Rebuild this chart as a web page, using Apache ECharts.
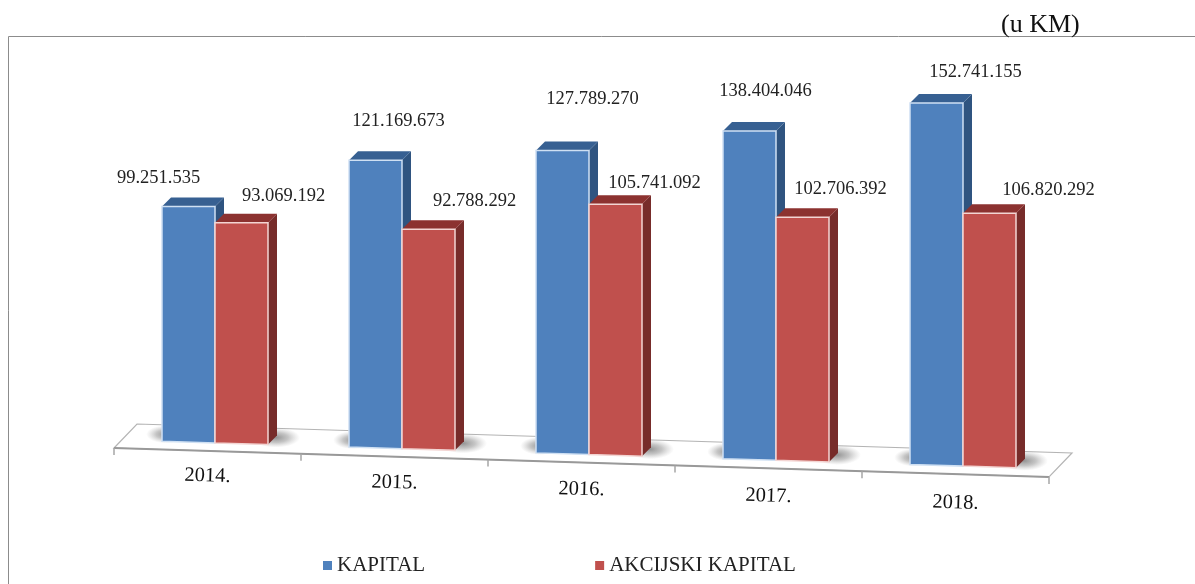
<!DOCTYPE html>
<html>
<head>
<meta charset="utf-8">
<title>Kapital</title>
<style>
  html, body { margin: 0; padding: 0; background: #fff; }
  #chart { width: 1195px; height: 584px; }
</style>
<script src="https://cdn.jsdelivr.net/npm/echarts@6/dist/echarts.min.js"></script>
</head>
<body>
<div id="chart"></div>
<script>
const categories = ['2014.', '2015.', '2016.', '2017.', '2018.'];
const kapital = [99251535, 121169673, 127789270, 138404046, 152741155];
const akcijskiKapital = [93069192, 92788292, 105741092, 102706392, 106820292];

// hand placed labels in the original, offset from top centre of the bar
const kapitalLabelOffset = [[-30, -28], [23, -39], [30, -51], [16, -40], [39, -31]];
const akcijskiLabelOffset = [[42, -27], [46, -28], [39, -21], [38, -28], [59, -23]];

const FONT = '"Liberation Serif", serif';
const SLOPE = 0.031; // floor runs down to the right
const GRID_LEFT = 114;
const DEPTH = 9; // bar top and side
const FLOOR_SHIFT = [7.5, -8.2]; // bars stand a bit behind the front edge
const BAR_WIDTH = 53;

const tilt = x => SLOPE * (x - GRID_LEFT);
const formatValue = v => String(v).replace(/\B(?=(\d{3})+$)/g, '.');

/* floor plate with ticks */
function renderFloor(params, api) {
  const band = api.size([1, 0])[0];
  const zero = api.coord([0, 0]);
  const x0 = zero[0] - band / 2;
  const y0 = zero[1];
  const x1 = x0 + band * categories.length;
  const y1 = y0 + tilt(x1);
  const back = [23, -24];
  const lineStyle = { stroke: '#a6a6a6', lineWidth: 1.5, fill: null };
  const children = [
    {
      type: 'polygon',
      shape: { points: [[x0, y0], [x1, y1], [x1 + back[0], y1 + back[1]], [x0 + back[0], y0 + back[1]]] },
      style: { fill: '#fff', stroke: '#b4b4b4', lineWidth: 1.2 },
    },
    { type: 'line', shape: { x1: x0, y1: y0, x2: x1, y2: y1 }, style: { stroke: '#999', lineWidth: 2 } },
  ];
  for (let i = 0; i <= categories.length; i++) {
    const x = x0 + band * i;
    children.push({
      type: 'line',
      shape: { x1: x, y1: y0 + tilt(x), x2: x, y2: y0 + tilt(x) + 7 },
      style: lineStyle,
    });
  }
  return { type: 'group', children };
}

/* year labels follow the tilt of the floor, a little steeper */
function renderYear(params, api) {
  const i = api.value(0);
  const p = api.coord([i, 0]);
  return {
    type: 'text',
    x: p[0],
    y: p[1] + (p[0] - GRID_LEFT) * 0.036 + 24.6,
    rotation: -0.03,
    style: {
      text: categories[i],
      font: '20.5px ' + FONT,
      fill: '#111',
      align: 'center',
      verticalAlign: 'middle',
    },
  };
}

function shadowBlob(x, y, r, stretch) {
  return {
    type: 'circle',
    x: x,
    y: y,
    scaleX: stretch,
    shape: { cx: 0, cy: 0, r: r },
    style: {
      fill: {
        type: 'radial',
        x: 0.5,
        y: 0.5,
        r: 0.5,
        colorStops: [
          { offset: 0, color: 'rgba(120,120,120,0.8)' },
          { offset: 0.5, color: 'rgba(140,140,140,0.5)' },
          { offset: 1, color: 'rgba(170,170,170,0)' },
        ],
      },
    },
  };
}

/* soft shadow on the floor, left and right of the pair */
function renderShadow(params, api) {
  const i = api.value(0);
  const p = api.coord([i, 0]);
  const cx = p[0] + FLOOR_SHIFT[0];
  const yBase = p[1] + FLOOR_SHIFT[1];
  const l = cx - BAR_WIDTH;
  const r = cx + BAR_WIDTH;
  return {
    type: 'group',
    children: [
      shadowBlob(l + 4, yBase + tilt(l) - 7, 9, 2.2),
      shadowBlob(r + 8, yBase + tilt(r) - 7, 10, 2.4),
    ],
  };
}

function makeBar(side, front, topFace, sideFace, border, offsets) {
  return function (params, api) {
    const i = api.value(0);
    const val = api.value(1);
    const p = api.coord([i, 0]);
    const top = api.coord([i, val]);
    const cx = p[0] + FLOOR_SHIFT[0];
    const l = side < 0 ? cx - BAR_WIDTH : cx;
    const r = l + BAR_WIDTH;
    const yBase = p[1] + FLOOR_SHIFT[1];
    const baseL = yBase + tilt(l);
    const baseR = yBase + tilt(r);
    const yTop = top[1] + FLOOR_SHIFT[1] + tilt(l);
    const off = offsets[i];
    return {
      type: 'group',
      children: [
        {
          type: 'polygon',
          shape: { points: [[r, yTop], [r + DEPTH, yTop - DEPTH], [r + DEPTH, baseR - DEPTH], [r, baseR]] },
          style: { fill: sideFace },
        },
        {
          type: 'polygon',
          shape: { points: [[l, yTop], [r, yTop], [r + DEPTH, yTop - DEPTH], [l + DEPTH, yTop - DEPTH]] },
          style: { fill: topFace },
        },
        {
          type: 'polygon',
          shape: { points: [[l, yTop], [r, yTop], [r, baseR], [l, baseL]] },
          style: { fill: front, stroke: border, lineWidth: 1.5 },
        },
        {
          type: 'text',
          x: (l + r) / 2 + off[0],
          y: yTop + off[1],
          style: {
            text: formatValue(val),
            font: '18.5px ' + FONT,
            fill: '#222',
            align: 'center',
            verticalAlign: 'middle',
          },
        },
      ],
    };
  };
}

const chart = echarts.init(document.getElementById('chart'));
chart.setOption({
  animation: false,
  backgroundColor: '#fff',
  grid: { left: GRID_LEFT, width: 935, top: 22, bottom: 136 },
  xAxis: { type: 'category', data: categories, show: false },
  yAxis: { type: 'value', min: 0, max: 180000000, show: false },
  legend: {
    left: 318,
    top: 550,
    icon: 'rect',
    itemWidth: 9,
    itemHeight: 9,
    itemGap: 170,
    textStyle: { fontFamily: FONT, fontSize: 21, color: '#222' },
    data: ['KAPITAL', 'AKCIJSKI KAPITAL'],
  },
  graphic: [
    {
      type: 'polyline',
      shape: { points: [[8.5, 584], [8.5, 36.5], [1195, 36.5]] },
      style: { stroke: '#8c8c8c', lineWidth: 1, fill: null },
    },
    {
      type: 'text',
      x: 1001,
      y: 25,
      style: { text: '(u KM)', font: '26px ' + FONT, fill: '#111', verticalAlign: 'middle' },
    },
  ],
  series: [
    {
      type: 'custom',
      name: 'pod',
      renderItem: renderFloor,
      data: [[0, 0]],
      z: 1,
    },
    {
      type: 'custom',
      name: 'godine',
      renderItem: renderYear,
      data: categories.map((c, i) => [i, 0]),
      z: 1,
    },
    {
      type: 'custom',
      name: 'sjena',
      renderItem: renderShadow,
      data: categories.map((c, i) => [i, 0]),
      z: 2,
    },
    {
      type: 'custom',
      name: 'KAPITAL',
      itemStyle: { color: '#4f81bd' },
      renderItem: makeBar(-1, '#4f81bd', '#376092', '#2f5480', '#cfe0f3', kapitalLabelOffset),
      encode: { x: 0, y: 1 },
      data: kapital.map((v, i) => [i, v]),
      z: 3,
    },
    {
      type: 'custom',
      name: 'AKCIJSKI KAPITAL',
      itemStyle: { color: '#c0504d' },
      renderItem: makeBar(1, '#c0504d', '#8c3230', '#772c2a', '#f3d5d3', akcijskiLabelOffset),
      encode: { x: 0, y: 1 },
      data: akcijskiKapital.map((v, i) => [i, v]),
      z: 4,
    },
  ],
});
</script>
</body>
</html>
